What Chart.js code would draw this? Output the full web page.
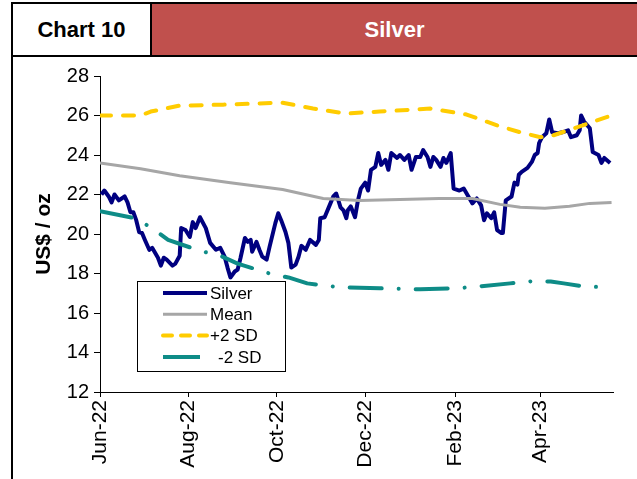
<!DOCTYPE html>
<html>
<head>
<meta charset="utf-8">
<script src="https://cdn.jsdelivr.net/npm/chart.js@4.4.0/dist/chart.umd.min.js"></script>
<style>
  html, body { margin: 0; padding: 0; background: #fff; overflow: hidden; }
  body { width: 637px; height: 479px; position: relative; font-family: "Liberation Sans", Arial, sans-serif; }
  #frame { position: absolute; left: 11px; top: 2px; width: 640px; height: 500px; border: 2px solid #000; box-sizing: border-box; }
  .head { position: absolute; top: 4px; height: 51px; line-height: 51px; text-align: center; font-weight: bold; font-size: 22px; z-index: 2; }
  #num { left: 13px; width: 137px; background: #fff; color: #000; border-right: 2px solid #000; }
  #title { left: 152px; width: 485px; background: #C0504D; color: #fff; }
  #rule { position: absolute; left: 13px; top: 55px; width: 624px; height: 2px; background: #000; z-index: 2; }
  #wrap { position: absolute; left: 0; top: 0; width: 637px; height: 479px; z-index: 1; }
</style>
</head>
<body>
<div id="frame"></div>
<div class="head" id="num">Chart 10</div>
<div class="head" id="title">Silver</div>
<div id="rule"></div>
<div id="wrap"><canvas id="chart" width="637" height="479"></canvas></div>
<script>
"use strict";

const START = "2022-06-01";
const END = "2023-05-21";

const TICK_DATES = ["2022-06-01", "2022-08-01", "2022-10-01", "2022-12-01", "2023-02-01", "2023-04-01"];
const TICK_LABELS = ["Jun-22", "Aug-22", "Oct-22", "Dec-22", "Feb-23", "Apr-23"];

const SILVER_DATES = [
  "2022-06-02", "2022-06-04", "2022-06-07", "2022-06-09", "2022-06-11", "2022-06-14", "2022-06-18", "2022-06-20",
  "2022-06-22", "2022-06-24", "2022-06-26", "2022-06-28", "2022-06-30", "2022-07-02", "2022-07-05", "2022-07-07",
  "2022-07-11", "2022-07-13", "2022-07-15", "2022-07-17", "2022-07-21", "2022-07-23", "2022-07-26", "2022-07-27",
  "2022-07-30", "2022-08-02", "2022-08-04", "2022-08-06", "2022-08-09", "2022-08-13", "2022-08-16", "2022-08-20",
  "2022-08-23", "2022-08-26", "2022-08-28", "2022-08-30", "2022-09-02", "2022-09-04", "2022-09-06", "2022-09-09",
  "2022-09-11", "2022-09-13", "2022-09-14", "2022-09-17", "2022-09-19", "2022-09-21", "2022-09-24", "2022-09-26",
  "2022-09-30", "2022-10-02", "2022-10-04", "2022-10-07", "2022-10-09", "2022-10-11", "2022-10-14", "2022-10-16",
  "2022-10-18", "2022-10-21", "2022-10-24", "2022-10-28", "2022-10-30", "2022-10-31", "2022-11-03", "2022-11-07",
  "2022-11-09", "2022-11-11", "2022-11-14", "2022-11-16", "2022-11-18", "2022-11-19", "2022-11-21", "2022-11-24",
  "2022-11-26", "2022-11-28", "2022-12-01", "2022-12-03", "2022-12-05", "2022-12-08", "2022-12-10", "2022-12-12",
  "2022-12-15", "2022-12-17", "2022-12-19", "2022-12-23", "2022-12-25", "2022-12-28", "2022-12-31", "2023-01-02",
  "2023-01-05", "2023-01-08", "2023-01-10", "2023-01-13", "2023-01-15", "2023-01-17", "2023-01-19", "2023-01-22",
  "2023-01-24", "2023-01-26", "2023-01-29", "2023-01-31", "2023-02-04", "2023-02-07", "2023-02-11", "2023-02-13",
  "2023-02-16", "2023-02-19", "2023-02-21", "2023-02-23", "2023-02-26", "2023-02-28", "2023-03-02", "2023-03-05",
  "2023-03-06", "2023-03-08", "2023-03-12", "2023-03-14", "2023-03-16", "2023-03-17", "2023-03-19", "2023-03-23",
  "2023-03-26", "2023-03-28", "2023-03-30", "2023-03-31", "2023-04-02", "2023-04-05", "2023-04-07", "2023-04-09",
  "2023-04-13", "2023-04-16", "2023-04-20", "2023-04-22", "2023-04-26", "2023-04-28", "2023-04-29", "2023-05-01",
  "2023-05-05", "2023-05-07", "2023-05-11", "2023-05-13", "2023-05-15", "2023-05-19",
];
const SILVER_VALUES = [
  22.0, 22.2, 21.9, 21.6, 22.0, 21.7, 21.9, 21.6,
  21.1, 21.1, 20.7, 20.1, 20.05, 19.7, 19.2, 19.3,
  18.8, 18.4, 18.8, 18.7, 18.4, 18.5, 18.9, 20.3,
  20.2, 19.85, 20.6, 20.3, 20.85, 20.3, 19.55, 19.2,
  19.3, 18.85, 18.3, 17.8, 18.1, 18.2, 18.8, 19.8,
  19.6, 19.7, 19.1, 19.6, 19.2, 18.85, 18.7, 19.35,
  20.55, 21.05, 20.7, 20.1, 19.55, 18.3, 18.45, 18.85,
  19.4, 19.2, 19.7, 19.45, 19.7, 20.8, 20.85, 21.55,
  21.9, 22.05, 21.35, 21.2, 20.8, 21.2, 21.4, 20.85,
  21.7, 22.3, 22.6, 22.2, 23.25, 23.4, 24.1, 23.5,
  23.75, 23.25, 24.1, 23.85, 24.0, 23.75, 24.0, 23.25,
  23.9, 23.9, 24.25, 23.9, 23.4, 23.9, 23.75, 23.4,
  23.85, 23.6, 24.1, 22.3, 22.2, 22.3, 21.8, 21.55,
  21.8, 21.45, 20.7, 21.05, 20.8, 21.1, 20.2, 20.05,
  20.05, 21.7, 21.9, 22.6, 22.5, 23.0, 23.15, 23.35,
  23.65, 24.0, 24.1, 24.6, 24.9, 25.1, 25.8, 25.15,
  25.1, 25.15, 25.25, 24.9, 25.0, 25.25, 26.0, 25.7,
  25.35, 24.15, 24.0, 23.6, 23.85, 23.6,
];

const MEAN_DATES = [
  "2022-06-01", "2022-06-29", "2022-07-26", "2022-08-30", "2022-10-05", "2022-11-02", "2022-11-27", "2022-12-25",
  "2023-01-21", "2023-02-13", "2023-03-04", "2023-03-18", "2023-04-04", "2023-04-21", "2023-05-05", "2023-05-20",
];
const MEAN_VALUES = [23.6, 23.3, 22.95, 22.6, 22.25, 21.8, 21.7, 21.75, 21.8, 21.8, 21.5, 21.35, 21.3, 21.4, 21.55, 21.6];

const PLUS_DATES = [
  "2022-06-01", "2022-06-29", "2022-07-06", "2022-07-26", "2022-08-25", "2022-10-05", "2022-10-26", "2022-11-18",
  "2022-12-11", "2023-01-15", "2023-02-09", "2023-03-02", "2023-03-18", "2023-04-01", "2023-04-10", "2023-04-26",
  "2023-05-14", "2023-05-20",
];
const PLUS_VALUES = [26.0, 26.0, 26.2, 26.5, 26.55, 26.65, 26.35, 26.1, 26.2, 26.35, 26.05, 25.5, 25.15, 24.9, 25.0, 25.4, 25.85, 26.0];

const MINUS_DATES = [
  "2022-06-01", "2022-06-25", "2022-07-07", "2022-07-18", "2022-08-09", "2022-08-23", "2022-09-04", "2022-09-26",
  "2022-10-09", "2022-10-22", "2022-11-14", "2022-12-11", "2023-01-08", "2023-02-02", "2023-02-18", "2023-03-11",
  "2023-03-25", "2023-04-08", "2023-04-17", "2023-04-30", "2023-05-19",
];
const MINUS_VALUES = [21.15, 20.8, 20.3, 19.7, 19.15, 18.9, 18.5, 18.0, 17.8, 17.5, 17.3, 17.25, 17.2, 17.25, 17.35, 17.5, 17.6, 17.6, 17.5, 17.35, 17.3];

const dayOf = (s) => (Date.parse(s) - Date.parse(START)) / 864e5;
const points = (dates, values) => dates.map((d, i) => ({ x: dayOf(d), y: values[i] }));

const FONT = "'Liberation Sans', Arial, sans-serif";

// legend drawn inside the plot, like the Excel original
const legendBox = {
  id: "legendBox",
  afterDatasetsDraw(chart) {
    const ctx = chart.ctx;
    const box = { x: 137, y: 281, w: 148, h: 90 };
    ctx.save();
    ctx.fillStyle = "#fff";
    ctx.fillRect(box.x, box.y, box.w, box.h);
    ctx.strokeStyle = "#000";
    ctx.lineWidth = 1;
    ctx.strokeRect(box.x + 0.5, box.y + 0.5, box.w, box.h);
    ctx.font = "17px " + FONT;
    ctx.textBaseline = "middle";
    chart.data.datasets.forEach((ds) => {
      const y = 293 + ds.legendRow * 21.3;
      ctx.beginPath();
      ctx.strokeStyle = ds.borderColor;
      ctx.lineWidth = ds.borderWidth;
      ctx.lineCap = ds.legendDash ? "round" : "butt";
      ctx.setLineDash(ds.legendDash || []);
      ctx.moveTo(163, y);
      ctx.lineTo(ds.legendEnd || 207, y);
      ctx.stroke();
      ctx.setLineDash([]);
      ctx.fillStyle = "#000";
      ctx.fillText(ds.label, ds.labelX || 210, y + 1);
    });
    ctx.restore();
  },
};

new Chart(document.getElementById("chart"), {
  type: "line",
  data: {
    datasets: [
      {
        label: "Silver", data: points(SILVER_DATES, SILVER_VALUES), legendRow: 0,
        borderColor: "#000080", borderWidth: 4, order: 10,
      },
      {
        label: "Mean", data: points(MEAN_DATES, MEAN_VALUES), legendRow: 1,
        borderColor: "#A6A6A6", borderWidth: 3, order: 1,
      },
      {
        label: "+2 SD", data: points(PLUS_DATES, PLUS_VALUES), legendRow: 2,
        borderColor: "#FFCC00", borderWidth: 4, borderDash: [11, 12], legendDash: [9, 9],
        borderCapStyle: "round", order: 1,
      },
      {
        label: "-2 SD", data: points(MINUS_DATES, MINUS_VALUES), legendRow: 3, legendEnd: 200, labelX: 218,
        borderColor: "#0E8C87", borderWidth: 4, borderDash: [32, 17, 0.01, 17],
        borderCapStyle: "round", order: 1,
      },
    ],
  },
  options: {
    responsive: false,
    animation: false,
    events: [],
    elements: { point: { radius: 0 }, line: { tension: 0, borderJoinStyle: "round" } },
    layout: { padding: { left: 14, right: 24, top: 76, bottom: 7 } },
    plugins: { legend: { display: false }, tooltip: { enabled: false } },
    scales: {
      x: {
        type: "linear",
        min: 0,
        max: dayOf(END),
        afterBuildTicks: (scale) => { scale.ticks = TICK_DATES.map((d) => ({ value: dayOf(d) })); },
        afterFit: (scale) => { scale.height = 80; },
        grid: { display: true, drawOnChartArea: false, drawTicks: true, tickLength: 5, color: "#000" },
        border: { display: true, color: "#000", width: 1 },
        ticks: {
          autoSkip: false, minRotation: 90, maxRotation: 90, padding: 3,
          color: "#000", font: { family: FONT, size: 21 },
          callback: (v, i) => TICK_LABELS[i],
        },
      },
      y: {
        min: 12,
        max: 28,
        afterFit: (scale) => { scale.width = 86; },
        grid: { display: true, drawOnChartArea: false, drawTicks: true, tickLength: 6, color: "#000" },
        border: { display: true, color: "#000", width: 1 },
        ticks: { stepSize: 2, padding: 5, color: "#000", font: { family: FONT, size: 20 } },
        title: {
          display: true, text: "US$ / oz", color: "#000",
          font: { family: FONT, size: 21, weight: "bold" }, padding: { top: 18, bottom: 0 },
        },
      },
    },
  },
  plugins: [legendBox],
});
</script>
</body>
</html>
